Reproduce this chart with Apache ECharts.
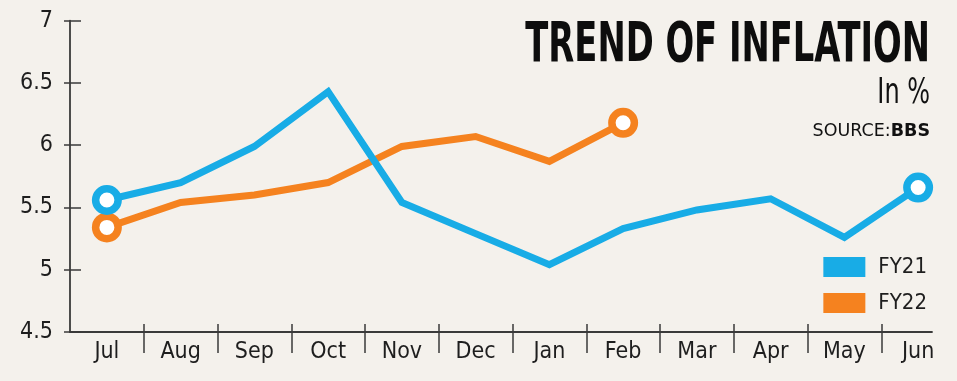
<!DOCTYPE html>
<html>
<head>
<meta charset="utf-8">
<script src="https://cdn.jsdelivr.net/npm/echarts@6/dist/echarts.min.js"></script>
<style>
html,body{margin:0;padding:0;background:#f4f1ec;}
#chart{width:957px;height:381px;}
</style>
</head>
<body>
<div id="chart"></div>
<script>
const months = ['Jul','Aug','Sep','Oct','Nov','Dec','Jan','Feb','Mar','Apr','May','Jun'];
const fy21 = [5.56, 5.70, 5.99, 6.43, 5.54, 5.29, 5.04, 5.33, 5.48, 5.57, 5.26, 5.66];
const fy22 = [5.34, 5.54, 5.60, 5.70, 5.99, 6.07, 5.87, 6.18];
const seriesNames = ['FY21', 'FY22'];
const titleText = 'TREND OF INFLATION';
const unitText = 'In %';

const BLUE = '#18ace6';
const ORANGE = '#f5821f';
const AX = '#3a3a3a';
const NARROW = '"DejaVu Sans Condensed", "Liberation Sans Narrow", sans-serif';

function endMarked(arr) {
  const last = arr.length - 1;
  return arr.map((v, i) => (i === 0 || i === last) ? {value: v, symbol: 'circle'} : {value: v, symbol: 'none'});
}
// category separators between months
const separators = months.slice(1).map((m, i) => i + 0.5);

const chart = echarts.init(document.getElementById('chart'), null, {renderer: 'canvas'});
const yBase = {min: 4.5, max: 7, interval: 0.5, splitLine: {show: false}};
const sepAxis = {type: 'value', gridIndex: 0, min: -0.5, max: months.length - 0.5, position: 'bottom',
  axisLine: {show: false, onZero: false}, axisLabel: {show: false}, splitLine: {show: false}};
chart.setOption({
  backgroundColor: '#f4f1ec',
  animation: false,
  grid: [
    {left: 70, right: 2, top: 20.7, bottom: 49, containLabel: false},
    {left: 70, right: 25, top: 20.7, bottom: 49, containLabel: false}
  ],
  xAxis: [
    {type: 'category', gridIndex: 0, data: months, boundaryGap: true, position: 'bottom',
     axisLine: {show: false, onZero: false}, axisTick: {show: false},
     axisLabel: {fontFamily: NARROW, fontSize: 23, color: '#1e1e1e', margin: 9},
     splitLine: {show: false}},
    {type: 'category', gridIndex: 1, data: months, position: 'bottom',
     axisLine: {show: true, onZero: false, lineStyle: {color: AX, width: 1.8}},
     axisTick: {show: false}, axisLabel: {show: false}, splitLine: {show: false}},
    Object.assign({axisTick: {show: true, length: 21, customValues: separators, lineStyle: {color: AX, width: 1.5}}}, sepAxis),
    Object.assign({axisTick: {show: true, inside: true, length: 8, customValues: separators, lineStyle: {color: AX, width: 1.5}}}, sepAxis)
  ],
  yAxis: [
    Object.assign({type: 'value', gridIndex: 0, position: 'left',
     axisLine: {show: true, onZero: false, lineStyle: {color: AX, width: 1.8}},
     axisTick: {show: true, inside: true, length: 11, lineStyle: {color: AX, width: 1.5}},
     axisLabel: {fontFamily: NARROW, fontSize: 23, color: '#1e1e1e', margin: 17}}, yBase),
    Object.assign({type: 'value', gridIndex: 1, position: 'left',
     axisLine: {show: false, onZero: false},
     axisTick: {show: true, inside: false, length: 6, lineStyle: {color: AX, width: 1.5}},
     axisLabel: {show: false}}, yBase)
  ],
  legend: {
    orient: 'vertical', right: 25, top: 251, icon: 'rect',
    itemWidth: 42, itemHeight: 20, itemGap: 14, align: 'left',
    textStyle: {fontFamily: NARROW, fontSize: 22, color: '#1e1e1e', padding: [0, 0, 0, 8]},
    data: [
      {name: seriesNames[0], itemStyle: {color: BLUE, borderWidth: 0}},
      {name: seriesNames[1], itemStyle: {color: ORANGE, borderWidth: 0}}
    ]
  },
  series: [
    {name: seriesNames[1], type: 'line', xAxisIndex: 0, yAxisIndex: 0, z: 3,
     data: endMarked(fy22), symbolSize: 22.5,
     lineStyle: {color: ORANGE, width: 7, join: 'miter'},
     itemStyle: {color: '#ffffff', borderColor: ORANGE, borderWidth: 7.5}},
    {name: seriesNames[0], type: 'line', xAxisIndex: 0, yAxisIndex: 0, z: 4,
     data: endMarked(fy21), symbolSize: 22.5,
     lineStyle: {color: BLUE, width: 7, join: 'miter'},
     itemStyle: {color: '#ffffff', borderColor: BLUE, borderWidth: 7.5}}
  ],
  graphic: [
    {type: 'text', x: 930, y: 46, scaleX: 0.67,
     style: {text: titleText, align: 'right', verticalAlign: 'middle',
             font: 'bold 56px ' + NARROW, fill: '#0d0d0d'}},
    {type: 'text', x: 930, y: 94, scaleX: 0.74,
     style: {text: unitText, align: 'right', verticalAlign: 'middle',
             font: '36px ' + NARROW, fill: '#111'}},
    {type: 'text', x: 930, y: 131,
     style: {text: '{a|SOURCE:}{b|BBS}', align: 'right', verticalAlign: 'middle',
             rich: {a: {fontFamily: '"DejaVu Sans", sans-serif', fontSize: 17.5, fill: '#111'},
                    b: {fontFamily: '"DejaVu Sans", sans-serif', fontSize: 17.5, fontWeight: 'bold', fill: '#111'}}}}
  ]
});
</script>
</body>
</html>
